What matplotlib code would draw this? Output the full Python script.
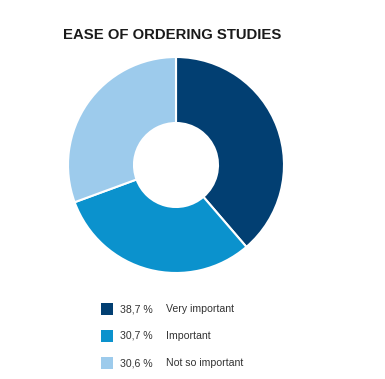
import matplotlib
matplotlib.use("Agg")
import matplotlib.pyplot as plt
from matplotlib.patches import Rectangle

title = "EASE OF ORDERING STUDIES"
labels = ["Very important", "Important", "Not so important"]
shares = [38.7, 30.7, 30.6]
colors = ["#023f72", "#0b92cd", "#9dcbec"]

W, H = 385, 379
fig = plt.figure(figsize=(W / 100, H / 100), dpi=100)
ax = fig.add_axes([0, 0, 1, 1])

# donut, clockwise from 12 o'clock
ax.pie(shares, colors=colors, startangle=90, counterclock=False,
       center=(176, H - 165), radius=108, frame=True,
       wedgeprops=dict(width=66, edgecolor="white", linewidth=1.5))
ax.set_xlim(0, W)
ax.set_ylim(0, H)
ax.set_aspect("equal")
ax.axis("off")

ax.text(63, H - 35, title, fontsize=10.75, fontweight="bold", family="Liberation Sans",
        color="#1a1a1a", va="center", ha="left")

# legend
for i, (lab, val, col) in enumerate(zip(labels, shares, colors)):
    y = H - (309 + i * 27)
    ax.add_patch(Rectangle((101, y - 6), 12, 12, facecolor=col, edgecolor="none"))
    ax.text(120, y, f"{val:.1f} %".replace(".", ","), fontsize=7.6, color="#333333",
            va="center", ha="left", family="Liberation Sans")
    ax.text(166, y, lab, fontsize=7.6, color="#333333", va="center", ha="left",
            family="Liberation Sans")

fig.savefig("out.png", dpi=100)
